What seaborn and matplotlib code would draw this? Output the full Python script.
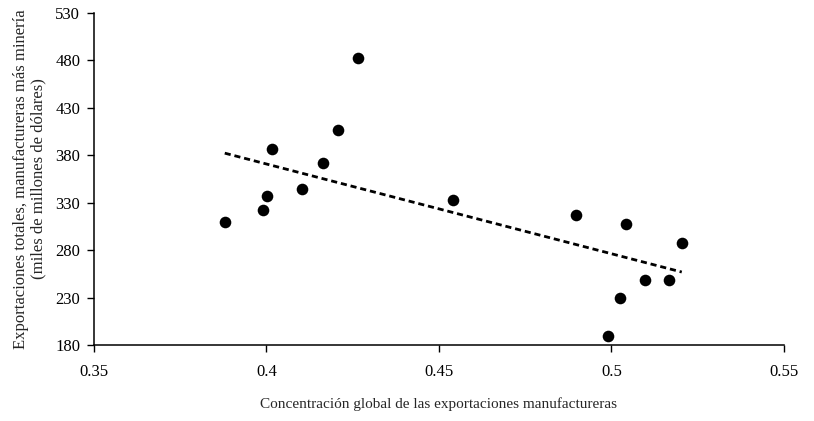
import matplotlib
matplotlib.use("Agg")
import matplotlib.pyplot as plt
import seaborn as sns
import pandas as pd
from matplotlib.ticker import FuncFormatter

concentracion = [0.3879, 0.3990, 0.4002, 0.4015, 0.4102, 0.4164, 0.4208, 0.4264,
                 0.4542, 0.4896, 0.4991, 0.5026, 0.5042, 0.5097, 0.5168, 0.5204]
exportaciones = [309.2, 321.8, 336.5, 386.3, 343.9, 371.6, 406.6, 482.1,
                 333.0, 316.5, 189.5, 229.8, 307.4, 248.4, 248.4, 287.0]
x_ticks = [0.35, 0.4, 0.45, 0.5, 0.55]
y_ticks = [180, 230, 280, 330, 380, 430, 480, 530]

df = pd.DataFrame({"x": concentracion, "y": exportaciones})

sns.set_style("white")
plt.rcParams['font.family'] = ['Liberation Serif', 'DejaVu Serif']

fig = plt.figure(figsize=(8.14, 4.21), dpi=100)
ax = fig.add_axes([0.1155, 0.1805, 0.8475, 0.7895])

sns.regplot(data=df, x="x", y="y", ax=ax, scatter=False, ci=None, truncate=True,
            line_kws=dict(color="black", linestyle=(0, (2.2, 1.4)), linewidth=2.0))
sns.scatterplot(data=df, x="x", y="y", ax=ax, color="black", s=70, edgecolor="black",
                linewidth=0, zorder=3)

ax.set_xlim(0.35, 0.55)
ax.set_ylim(180, 530)
ax.set_xticks(x_ticks)
ax.set_yticks(y_ticks)
ax.xaxis.set_major_formatter(FuncFormatter(lambda v, p: f"{v:g}"))
ax.tick_params(axis="both", direction="out", length=5, width=1, colors="black",
               labelsize=12, bottom=True, left=True)
ax.tick_params(axis="x", pad=9)
ax.tick_params(axis="y", pad=5)
for s in ["top", "right"]:
    ax.spines[s].set_visible(False)
for s in ["left", "bottom"]:
    ax.spines[s].set_color("black")
    ax.spines[s].set_linewidth(1.1)

ax.set_xlabel("Concentración global de las exportaciones manufactureras", fontsize=11, labelpad=12)
ax.set_ylabel("Exportaciones totales, manufactureras más minería\n(miles de millones de dólares)",
              fontsize=12, labelpad=6, linespacing=1.15)

fig.savefig("out.png", dpi=100)
